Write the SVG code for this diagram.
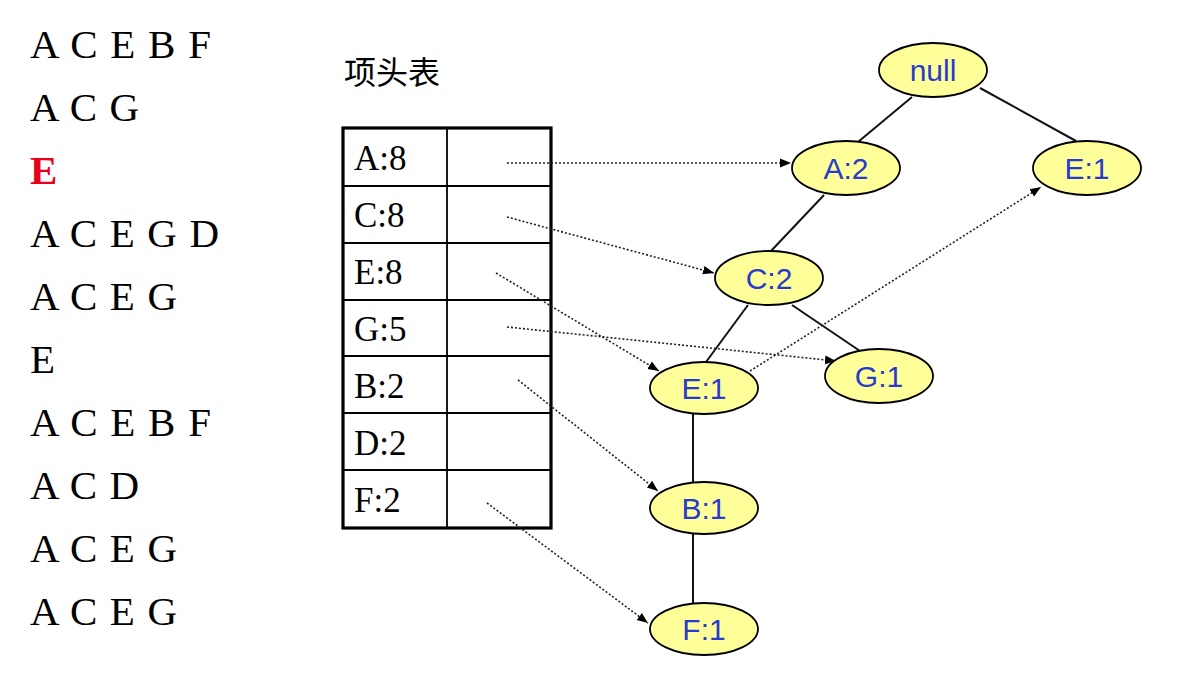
<svg xmlns="http://www.w3.org/2000/svg" width="1178" height="677" viewBox="0 0 1178 677">
<style>
.seq{font-family:"Liberation Serif","Times New Roman",serif;font-size:41px;fill:#000}
.red{fill:#e8001c;font-weight:bold}
.cell{font-family:"Liberation Serif","Times New Roman",serif;font-size:35px;fill:#000}
.title{font-family:"Noto Sans CJK SC","Noto Sans",sans-serif;font-size:32px;fill:#000}
.node ellipse{fill:#ffff99;stroke:#000;stroke-width:1.8}
.node text{font-family:"Liberation Sans",Arial,sans-serif;font-size:30px;fill:#2a3acc;text-anchor:middle}
.tree line{stroke:#111;stroke-width:2}
.ptr line{stroke:#222;stroke-width:1.6;stroke-dasharray:2 2;marker-end:url(#ah)}
.grid line{stroke:#000;stroke-width:1.8}
</style>
<defs>
<marker id="ah" viewBox="0 0 10 10" refX="10" refY="5" markerWidth="11" markerHeight="11" markerUnits="userSpaceOnUse" orient="auto">
<path d="M0,1 L10,5 L0,9 z" fill="#000"/>
</marker>
</defs>
<rect width="1178" height="677" fill="#fff"/>
<g id="sequences">
<text class="seq" x="30" y="58" textLength="181" lengthAdjust="spacing">A C E B F</text>
<text class="seq" x="30" y="121" textLength="109" lengthAdjust="spacing">A C G</text>
<text class="seq red" x="30" y="184">E</text>
<text class="seq" x="30" y="247" textLength="189" lengthAdjust="spacing">A C E G D</text>
<text class="seq" x="30" y="310" textLength="147" lengthAdjust="spacing">A C E G</text>
<text class="seq" x="30" y="373">E</text>
<text class="seq" x="30" y="436" textLength="181" lengthAdjust="spacing">A C E B F</text>
<text class="seq" x="30" y="499" textLength="109" lengthAdjust="spacing">A C D</text>
<text class="seq" x="30" y="562" textLength="147" lengthAdjust="spacing">A C E G</text>
<text class="seq" x="30" y="625" textLength="147" lengthAdjust="spacing">A C E G</text>
</g>
<text class="title" x="344" y="84">项头表</text>
<g id="header-table">
<g class="grid">
<line x1="343" y1="186" x2="551" y2="186"/>
<line x1="343" y1="243" x2="551" y2="243"/>
<line x1="343" y1="300" x2="551" y2="300"/>
<line x1="343" y1="356" x2="551" y2="356"/>
<line x1="343" y1="413" x2="551" y2="413"/>
<line x1="343" y1="470" x2="551" y2="470"/>
<line x1="447" y1="128" x2="447" y2="528"/>
</g>
<rect x="343" y="128" width="208" height="400" fill="none" stroke="#000" stroke-width="3.2"/>
<text class="cell" x="354" y="170">A:8</text>
<text class="cell" x="354" y="227">C:8</text>
<text class="cell" x="354" y="284">E:8</text>
<text class="cell" x="354" y="341">G:5</text>
<text class="cell" x="354" y="398">B:2</text>
<text class="cell" x="354" y="455">D:2</text>
<text class="cell" x="354" y="512">F:2</text>
</g>
<g id="connectors">
<g class="tree">
<line x1="912" y1="97" x2="858" y2="142"/>
<line x1="980" y1="88" x2="1076" y2="141"/>
<line x1="824" y1="195" x2="771" y2="251"/>
<line x1="748" y1="305" x2="706" y2="362"/>
<line x1="792" y1="305" x2="860" y2="351"/>
<line x1="693" y1="413" x2="693" y2="482"/>
<line x1="693" y1="534" x2="693" y2="603"/>
</g>
<g class="ptr">
<line x1="507" y1="163" x2="791" y2="163"/>
<line x1="507" y1="217" x2="714" y2="273"/>
<line x1="496" y1="273" x2="659" y2="371"/>
<line x1="507" y1="327" x2="836" y2="361"/>
<line x1="518" y1="380" x2="658" y2="491"/>
<line x1="487" y1="503" x2="648" y2="623"/>
<line x1="750" y1="371" x2="1041" y2="187"/>
</g>
</g>
<g id="node-null" class="node"><ellipse cx="933" cy="70" rx="54" ry="27"/><text x="933" y="81">null</text></g>
<g id="node-A2" class="node"><ellipse cx="846" cy="168" rx="54" ry="27"/><text x="846" y="179">A:2</text></g>
<g id="node-E1-top" class="node"><ellipse cx="1087" cy="168" rx="54" ry="27"/><text x="1087" y="179">E:1</text></g>
<g id="node-C2" class="node"><ellipse cx="769" cy="278" rx="54" ry="27"/><text x="769" y="289">C:2</text></g>
<g id="node-E1" class="node"><ellipse cx="704" cy="388" rx="54" ry="26"/><text x="704" y="399">E:1</text></g>
<g id="node-G1" class="node"><ellipse cx="879" cy="376" rx="54" ry="27"/><text x="879" y="387">G:1</text></g>
<g id="node-B1" class="node"><ellipse cx="704" cy="508" rx="54" ry="26"/><text x="704" y="519">B:1</text></g>
<g id="node-F1" class="node"><ellipse cx="704" cy="629" rx="54" ry="26"/><text x="704" y="640">F:1</text></g>
</svg>
